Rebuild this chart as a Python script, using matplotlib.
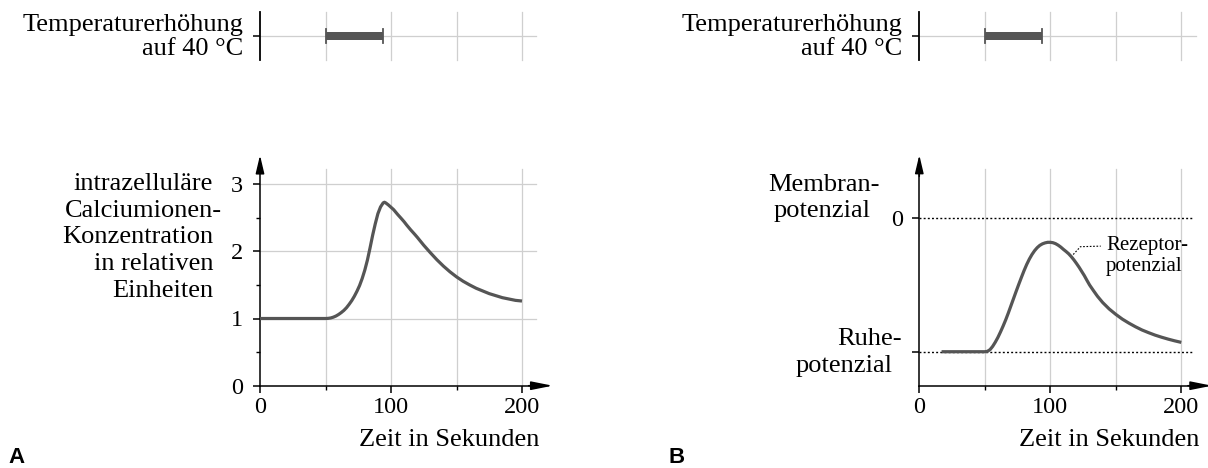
import matplotlib
matplotlib.use("Agg")
import matplotlib.pyplot as plt

W, H, DPI = 1208, 468, 100

# ---------------- data ----------------
# Panel A: intracellular calcium concentration (relative units)
time_a = [0, 20, 40, 50, 52, 54, 56, 58, 60, 62, 64, 66, 68, 70, 72, 74, 76, 78, 80,
          82, 84, 86, 88, 90, 92, 94, 95, 96, 98, 100, 102, 105, 108, 110, 112, 115,
          118, 120, 125, 130, 135, 140, 145, 150, 155, 160, 165, 170, 175, 180, 185,
          190, 195, 200]
calcium_a = [1.0, 1.0, 1.0, 1.0, 1.002, 1.008, 1.02, 1.037, 1.06, 1.088, 1.12, 1.16,
             1.21, 1.265, 1.33, 1.405, 1.49, 1.595, 1.72, 1.87, 2.05, 2.24, 2.41, 2.56,
             2.66, 2.72, 2.73, 2.72, 2.69, 2.655, 2.62, 2.55, 2.485, 2.44, 2.39, 2.32,
             2.255, 2.21, 2.09, 1.98, 1.875, 1.78, 1.695, 1.62, 1.555, 1.50, 1.45, 1.41,
             1.37, 1.34, 1.31, 1.29, 1.27, 1.26]

# Panel B: membrane potential (schematic, mV; resting potential = -70)
time_b = [17, 30, 40, 50, 52, 54, 56, 58, 60, 62, 64, 66, 68, 70, 72, 74, 76, 78, 80,
          82, 84, 86, 88, 90, 92, 94, 96, 98, 100, 102, 104, 106, 108, 110, 112, 114,
          116, 118, 120, 122, 124, 126, 128, 130, 133, 136, 140, 145, 150, 155, 160,
          165, 170, 175, 180, 185, 190, 195, 200]
potential_b = [-70, -70, -70, -70, -69.8, -68.9, -67.2, -65.0, -62.5, -59.6, -56.5,
               -53.2, -49.6, -45.8, -42.0, -38.2, -34.5, -30.9, -27.4, -24.2, -21.4,
               -19.0, -17.0, -15.4, -14.2, -13.4, -12.9, -12.6, -12.6, -12.8, -13.3,
               -14.1, -15.1, -16.3, -17.4, -18.6, -20.1, -21.8, -23.7, -25.7, -27.9,
               -30.1, -32.6, -35.0, -38.0, -40.9, -44.2, -47.6, -50.4, -52.9, -55.0,
               -56.9, -58.6, -60.0, -61.3, -62.4, -63.4, -64.3, -65.1]

heat_start, heat_end = 50, 94          # temperature increase to 40 °C
x_ticks = [0, 100, 200]
x_minor = [50, 150]
grid_x = [50, 100, 150, 200]
a_yticks = [0, 1, 2, 3]
a_yminor = [0.5, 1.5, 2.5]
rest_mv, zero_mv = -70, 0
leader_x = [117.5, 123.0, 138.5]
leader_y = [-19.0, -14.9, -14.6]

a_ylabel = ["intrazelluläre", "Calciumionen-", "Konzentration", "in relativen", "Einheiten"]
temp_label = ["Temperaturerhöhung", "auf 40 °C"]

# ---------------- style ----------------
SERIF = "Liberation Serif"
plt.rcParams["font.family"] = [SERIF, "DejaVu Serif"]
CURVE = "#555555"
GRID = "#cfcfcf"
FS = 19
TFS = 17.5

fig = plt.figure(figsize=(W / DPI, H / DPI), dpi=DPI)


def make_ax(x0, sx, y0, sy, box):
    l, r, t, b = box
    ax = fig.add_axes([l / W, 1 - b / H, (r - l) / W, (b - t) / H])
    ax.set_xlim((l - x0) / sx, (r - x0) / sx)
    ax.set_ylim((y0 - b) / sy, (y0 - t) / sy)
    ax.patch.set_visible(False)
    ax.spines["top"].set_visible(False)
    ax.spines["right"].set_visible(False)
    ax.xaxis.set_ticks_position("bottom")
    ax.yaxis.set_ticks_position("left")
    return ax


def ftext(x, y, s, ha="right", va="baseline", **kw):
    fig.text(x / W, 1 - y / H, s, ha=ha, va=va, **kw)


def arrow(ax, xy, xyt, hl):
    ax.annotate("", xy=xy, xytext=xyt, annotation_clip=False,
                arrowprops=dict(arrowstyle=f"-|>,head_length={hl},head_width=0.13",
                                mutation_scale=20, color="black", lw=1.1,
                                shrinkA=0, shrinkB=0))


def style_ticks(ax):
    ax.tick_params(which="major", length=5, width=1.1, labelsize=TFS, color="black")
    ax.tick_params(axis="y", which="major", pad=7)
    ax.tick_params(axis="x", which="major", pad=3)
    ax.tick_params(which="minor", length=2.8, width=1.0)
    for s in ["left", "bottom"]:
        ax.spines[s].set_linewidth(1.1)


def top_strip(x0, text_right):
    ax = make_ax(x0, 1.31, 36, 1.0, (x0 - 12, x0 + 300, 0, 75))
    ax.spines["bottom"].set_visible(False)
    ax.spines["left"].set_position(("data", 0))
    ax.spines["left"].set_bounds(-24, 24)
    ax.spines["left"].set_linewidth(1.3)
    ax.set_yticks([0])
    ax.set_yticklabels([])
    ax.set_xticks([])
    ax.tick_params(axis="y", length=5, width=1.1)
    for gx in grid_x:
        ax.plot([gx, gx], [-24, 24], color=GRID, lw=0.9, zorder=1)
    ax.plot([0, 211], [0, 0], color=GRID, lw=0.9, zorder=1)
    ax.barh(0, heat_end - heat_start, left=heat_start, height=8, color=CURVE, zorder=3)
    for hx in (heat_start, heat_end):
        ax.plot([hx, hx], [-7, 7], color=CURVE, lw=1.3, zorder=3)
    ftext(text_right, 31, temp_label[0], fontsize=FS)
    ftext(text_right, 55, temp_label[1], fontsize=FS)
    return ax


# ---------------- top strips ----------------
top_strip(260, 243)
top_strip(919.3, 902)

# ---------------- panel A ----------------
axA = make_ax(260, 1.31, 385.7, 67.2, (232, 560, 140, 420))
axA.spines["left"].set_position(("data", 0))
axA.spines["bottom"].set_position(("data", 0))
axA.spines["left"].set_bounds(0, 3.3)
axA.spines["bottom"].set_bounds(0, 212)
arrow(axA, (0, 3.43), (0, 3.2), 0.55)
arrow(axA, (223.4, 0), (205, 0), 0.65)
for gx in grid_x:
    axA.plot([gx, gx], [0, 3.22], color=GRID, lw=0.9, zorder=1)
for gy in a_yticks[1:]:
    axA.plot([0, 211], [gy, gy], color=GRID, lw=0.9, zorder=1)
axA.plot(time_a, calcium_a, color=CURVE, lw=2.3, zorder=4,
         solid_capstyle="butt", solid_joinstyle="round")
axA.set_xticks(x_ticks)
axA.set_xticks(x_minor, minor=True)
axA.set_yticks(a_yticks)
axA.set_yticks(a_yminor, minor=True)
style_ticks(axA)

for i, line in enumerate(a_ylabel):
    xr = 222 if line.endswith("-") else 213
    ftext(xr, 190 + 26.7 * i, line, fontsize=FS)
ftext(539, 446, "Zeit in Sekunden", fontsize=FS)

# ---------------- panel B ----------------
sxB, y0B, syB = 1.31, 218.3, 1.906
axB = make_ax(919.3, sxB, y0B, syB, (900, 1208, 140, 420))
ybot = (y0B - 385.7) / syB
axB.spines["left"].set_position(("data", 0))
axB.spines["bottom"].set_position(("data", ybot))
axB.spines["left"].set_bounds(ybot, 27)
axB.spines["bottom"].set_bounds(0, 212)
arrow(axB, (0, 33.2), (0, 22), 0.55)
arrow(axB, (223.4, ybot), (205, ybot), 0.65)
for gx in grid_x:
    axB.plot([gx, gx], [ybot, 25.7], color=GRID, lw=0.9, zorder=1)
for gy in (zero_mv, rest_mv):
    axB.plot([0, 209], [gy, gy], color="black", lw=1.0, dashes=(1.4, 1.6), zorder=2)
axB.plot(time_b, potential_b, color=CURVE, lw=2.3, zorder=4,
         solid_capstyle="butt", solid_joinstyle="round")
axB.plot(leader_x, leader_y, color="black", lw=0.8, dashes=(1.5, 1.5), zorder=3)
axB.text(142.6, -16.7, "Rezeptor-", fontsize=15, ha="left", va="baseline")
axB.text(142.6, -27.5, "potenzial", fontsize=15, ha="left", va="baseline")
axB.set_xticks(x_ticks)
axB.set_xticks(x_minor, minor=True)
axB.set_yticks([rest_mv, zero_mv])
axB.set_yticklabels(["", "0"])
style_ticks(axB)

ftext(880, 190.7, "Membran-", fontsize=FS)
ftext(871, 216.7, "potenzial", fontsize=FS)
ftext(902, 345, "Ruhe-", fontsize=FS)
ftext(893, 371.7, "potenzial", fontsize=FS)
ftext(1199, 446, "Zeit in Sekunden", fontsize=FS)

# panel letters
ftext(8, 463, "A", ha="left", fontsize=16, fontweight="bold", family="Liberation Sans")
ftext(668, 463, "B", ha="left", fontsize=16, fontweight="bold", family="Liberation Sans")

fig.savefig("out.png", dpi=DPI)
